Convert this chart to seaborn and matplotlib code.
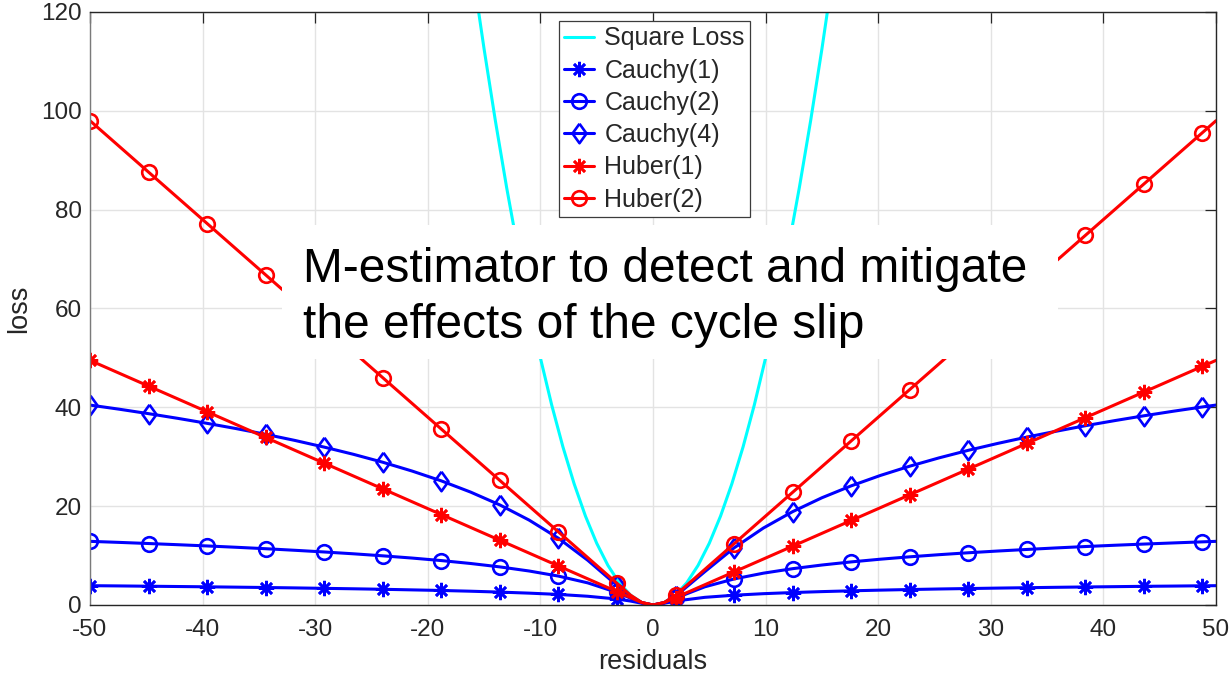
import numpy as np
import matplotlib
matplotlib.use("Agg")
import matplotlib.pyplot as plt
from matplotlib.patches import Rectangle
import seaborn as sns

# residual grid on which each loss curve is sampled
residuals = [-50, -47.4, -44.8, -42.2, -39.6, -37, -34.4, -31.8, -29.2, -26.6,
             -24, -21.4, -18.8, -16.2, -13.6, -11, -8.4, -5.8, -3.2, -2, -1, 0,
             1, 2, 4.6, 7.2, 9.8, 12.4, 15, 17.6, 20.2, 22.8, 25.4, 28, 30.6,
             33.2, 35.8, 38.4, 41, 43.6, 46.2, 48.8, 50]

# residuals where a marker is shown
marker_residuals = [-50, -44.8, -39.6, -34.4, -29.2, -24, -18.8, -13.6, -8.4, -3.2,
                    2, 7.2, 12.4, 17.6, 22.8, 28, 33.2, 38.4, 43.6, 48.8]

cauchy1 = [3.91, 3.86, 3.80, 3.74, 3.68, 3.61, 3.54, 3.46, 3.37, 3.28, 3.18, 3.06,
           2.94, 2.79, 2.61, 2.40, 2.14, 1.77, 1.21, 0.80, 0.35, 0.00,
           0.35, 0.80, 1.55, 1.98, 2.29, 2.52, 2.71, 2.87, 3.01, 3.13, 3.24, 3.33,
           3.42, 3.50, 3.58, 3.65, 3.71, 3.78, 3.83, 3.89, 3.91]

cauchy2 = [12.88, 12.67, 12.44, 12.20, 11.95, 11.68, 11.39, 11.07, 10.73, 10.36,
           9.95, 9.50, 8.99, 8.40, 7.71, 6.88, 5.85, 4.48, 2.54, 1.39, 0.45, 0.00,
           0.45, 1.39, 3.68, 5.27, 6.44, 7.35, 8.09, 8.72, 9.27, 9.75, 10.18, 10.57,
           10.92, 11.24, 11.55, 11.83, 12.09, 12.33, 12.56, 12.78, 12.88]

cauchy4 = [40.46, 39.62, 38.72, 37.77, 36.76, 35.69, 34.54, 33.30, 31.95, 30.49,
           28.89, 27.11, 25.12, 22.85, 20.25, 17.18, 13.51, 9.06, 3.96, 1.79, 0.48, 0.00,
           0.48, 1.79, 6.74, 11.56, 15.57, 18.89, 21.70, 24.11, 26.22, 28.09, 29.77,
           31.30, 32.69, 33.98, 35.16, 36.28, 37.31, 38.29, 39.21, 40.08, 40.46]

huber1 = [49.5, 46.9, 44.3, 41.7, 39.1, 36.5, 33.9, 31.3, 28.7, 26.1, 23.5, 20.9,
          18.3, 15.7, 13.1, 10.5, 7.9, 5.3, 2.7, 1.5, 0.5, 0.0,
          0.5, 1.5, 4.1, 6.7, 9.3, 11.9, 14.5, 17.1, 19.7, 22.3, 24.9, 27.5, 30.1,
          32.7, 35.3, 37.9, 40.5, 43.1, 45.7, 48.3, 49.5]

huber2 = [98, 92.8, 87.6, 82.4, 77.2, 72, 66.8, 61.6, 56.4, 51.2, 46, 40.8, 35.6,
          30.4, 25.2, 20, 14.8, 9.6, 4.4, 2, 0.5, 0,
          0.5, 2, 7.2, 12.4, 17.6, 22.8, 28, 33.2, 38.4, 43.6, 48.8, 54, 59.2, 64.4,
          69.6, 74.8, 80, 85.2, 90.4, 95.6, 98]

square_residuals = list(range(-16, 17))
square_loss = [128, 112.5, 98, 84.5, 72, 60.5, 50, 40.5, 32, 24.5, 18, 12.5, 8, 4.5,
               2, 0.5, 0, 0.5, 2, 4.5, 8, 12.5, 18, 24.5, 32, 40.5, 50, 60.5, 72,
               84.5, 98, 112.5, 128]

x_ticks = [-50, -40, -30, -20, -10, 0, 10, 20, 30, 40, 50]
y_ticks = [0, 20, 40, 60, 80, 100, 120]

title_lines = ["M-estimator to detect and mitigate", "the effects of the cycle slip"]

sns.set_style("white")
plt.rcParams["font.family"] = ["Liberation Sans", "DejaVu Sans"]
plt.rcParams["axes.unicode_minus"] = False

fig = plt.figure(figsize=(12.29, 6.76), dpi=100)
ax = fig.add_axes([0.07323, 0.10503, 0.91619, 0.87722])

text_col = "#262626"
asterisk = (8, 2, 0)
diamond = [(0, 1), (0.72, 0), (0, -1), (-0.72, 0), (0, 1)]
mark_idx = [i for i, r in enumerate(residuals)
            if any(np.isclose(r, m) for m in marker_residuals)]

sns.lineplot(x=square_residuals, y=square_loss, ax=ax, color="#00FFFF", lw=2.2,
             label="Square Loss", errorbar=None, sort=False)

series = [
    ("Cauchy(1)", cauchy1, "#0000FF", asterisk, 11),
    ("Cauchy(2)", cauchy2, "#0000FF", "o", 10.5),
    ("Cauchy(4)", cauchy4, "#0000FF", diamond, 14),
    ("Huber(1)", huber1, "#FF0000", asterisk, 11),
    ("Huber(2)", huber2, "#FF0000", "o", 10.5),
]
for name, vals, col, mk, ms in series:
    sns.lineplot(x=residuals, y=vals, ax=ax, color=col, lw=2.2, label=name,
                 errorbar=None, sort=False, marker=mk, markevery=mark_idx,
                 markersize=ms, markerfacecolor="none", markeredgecolor=col,
                 markeredgewidth=1.9)

ax.set_xlim(-50, 50)
ax.set_ylim(0, 120)
ax.set_xticks(x_ticks)
ax.set_yticks(y_ticks)
ax.set_xlabel("residuals", fontsize=19.5, color=text_col, labelpad=6)
ax.set_ylabel("loss", fontsize=19.5, color=text_col, labelpad=6)
ax.grid(True, color="#e3e3e3", lw=1.0)
ax.set_axisbelow(True)
ax.tick_params(direction="in", length=8, width=0.9, top=True, right=True,
               labelsize=17.5, colors=text_col, labelcolor=text_col)
ax.tick_params(axis="x", pad=10)
ax.tick_params(axis="y", pad=6)
for side in ["top", "right", "bottom"]:
    ax.spines[side].set_color("#262626")
    ax.spines[side].set_linewidth(1.0)
ax.spines["left"].set_color("#7a7a7a")
ax.spines["left"].set_linewidth(1.0)

leg = ax.legend(loc="upper left", bbox_to_anchor=(0.4165, 0.985), borderaxespad=0,
                fontsize=18, frameon=True, fancybox=False, framealpha=1,
                edgecolor="#3c3c3c", handlelength=1.2, handletextpad=0.4,
                labelspacing=0.33, borderpad=0.22)
leg.get_frame().set_linewidth(0.9)
leg.set_zorder(10)

# white caption panel laid over the curves
ax.add_patch(Rectangle((0.1705, 0.4148), 0.6892, 0.226, transform=ax.transAxes,
                       facecolor="white", edgecolor="none", zorder=6))
ax.text(0.1892, 0.5447, title_lines[0], transform=ax.transAxes, fontsize=34.5,
        color="black", va="baseline", ha="left", zorder=7)
ax.text(0.1892, 0.4503, title_lines[1], transform=ax.transAxes, fontsize=34.5,
        color="black", va="baseline", ha="left", zorder=7)

fig.savefig("out.png", dpi=100)
